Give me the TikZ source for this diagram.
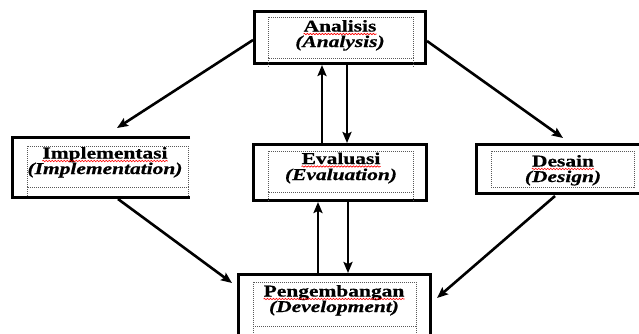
\documentclass[tikz,border=0pt]{standalone}
\usepackage{fontspec}
\newfontfamily\boxfont[FakeStretch=1.3,FakeBold=0.6]{Liberation Serif}
\usetikzlibrary{arrows.meta,calc,decorations.pathmorphing}
\begin{document}
\begin{tikzpicture}[x=1pt,y=-1pt,
 box/.style={line width=3pt, inner sep=0pt, rectangle},
 dotframe/.style={draw=black!65, line width=0.8pt, dash pattern=on 1pt off 1pt},
 lbl/.style={font=\boxfont\fontsize{16.5}{17}\selectfont\bfseries, anchor=base, inner sep=0pt, text=black},
 ilbl/.style={font=\boxfont\fontsize{16.5}{17}\selectfont\bfseries\itshape, anchor=base, inner sep=0pt, text=black},
 conn/.style={line width=2.6pt, -{Stealth[length=11pt,width=9pt,inset=2pt]}},
 spell/.style={draw=red, line width=0.6pt, decorate, decoration={snake, amplitude=0.7pt, segment length=3pt}}]
\fill[white] (0,0) rectangle (639,333);
\useasboundingbox (0,0) rectangle (639,333);

% boxes
\node[box, draw, minimum width=171pt, minimum height=52pt] (ana) at (340,37.5) {};
\node[box, minimum width=175pt, minimum height=57pt] (imp) at (101,167) {};
\draw[line width=3pt] (imp.north east) -- (imp.north west) -- (imp.south west) -- (imp.south east);
\node[box, draw, minimum width=173pt, minimum height=56pt] (eva) at (340,172.5) {};
\node[box, draw, minimum width=165pt, minimum height=49pt] (des) at (559,169) {};
\node[box, draw, minimum width=192pt, minimum height=69pt] (pen) at (334.5,309) {};

% dotted text frames
\draw[dotframe] (268,17) rectangle (413,58) (268,58) -- (268,67) (413,58) -- (413,67);
\draw[dotframe] (27,146) rectangle (188,187) (27,187) -- (27,197) (188,187) -- (188,197);
\draw[dotframe] (268,151) rectangle (413,192) (268,192) -- (268,202) (413,192) -- (413,202);
\draw[dotframe] (491,151) rectangle (634,187);
\draw[dotframe] (253,282) rectangle (416,326) (253,326) -- (253,340) (416,326) -- (416,340);

% labels
\node[lbl] (ana1) at (340,31.5) {Analisis};
\node[ilbl] (ana2) at (340,47) {(Analysis)};
\node[lbl] (imp1) at (105,158.5) {Implementasi};
\node[ilbl] (imp2) at (105,174) {(Implementation)};
\node[lbl] (eva1) at (341,164) {Evaluasi};
\node[ilbl] (eva2) at (341,180) {(Evaluation)};
\node[lbl] (des1) at (563,166.5) {Desain};
\node[ilbl] (des2) at (563,182) {(Design)};
\node[lbl] (pen1) at (334,296.5) {Pengembangan};
\node[ilbl] (pen2) at (334,312) {(Development)};

% spelling underlines
\foreach \n in {ana1,imp1,eva1,des1,pen1}
  \draw[spell] ($(\n.base west)+(0,2.5)$) -- ($(\n.base east)+(0,2.5)$);

% connectors
\draw[conn] ($(ana.west)+(0,2.5)$) -- ($(imp.north)+(16,-9)$);
\draw[conn] ($(ana.east)+(0,3.5)$) -- ($(des.north)+(4,-5)$);
\draw[conn] ($(eva.north)+(-18,0)$) -- ($(ana.south)+(-18,0)$);
\draw[conn] ($(ana.south)+(7,0)$) -- ($(eva.north)+(7,0)$);
\draw[conn] ($(pen.north)+(-16.5,0)$) -- ($(eva.south)+(-22,0)$);
\draw[conn] ($(eva.south)+(8,0)$) -- ($(pen.north)+(13.5,0)$);
\draw[conn] ($(imp.south)+(17,2)$) -- ($(pen.west)+(-5,-26)$);
\draw[conn] ($(des.south)+(-4,1)$) -- ($(pen.east)+(5,-11)$);
\end{tikzpicture}
\end{document}
